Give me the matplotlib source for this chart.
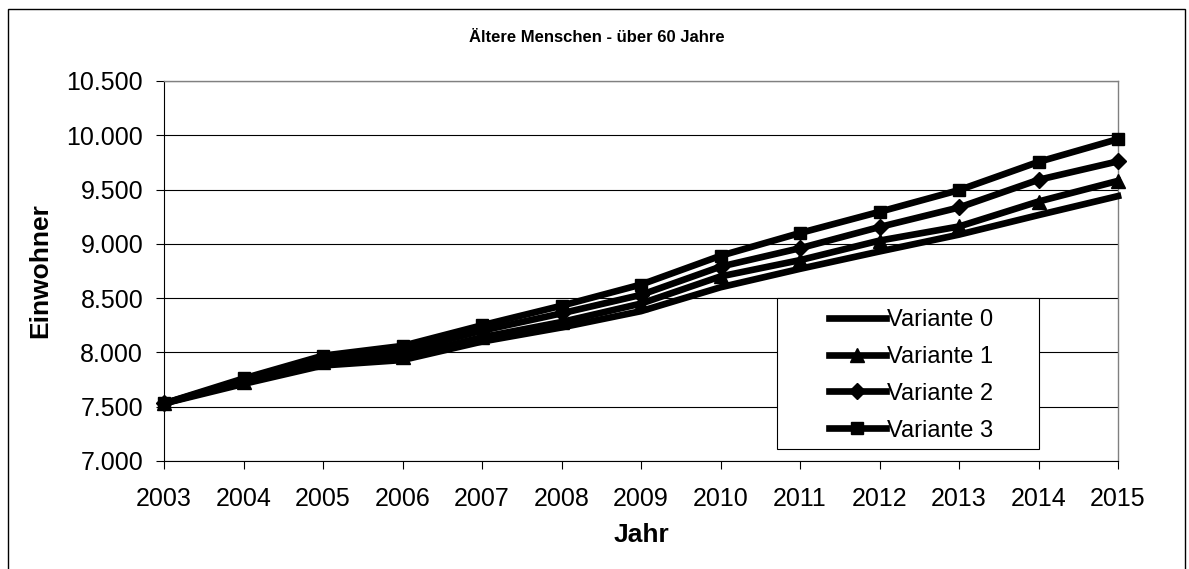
import matplotlib
matplotlib.use("Agg")
import matplotlib.pyplot as plt
from matplotlib.patches import Rectangle
from matplotlib.ticker import FuncFormatter

# Data (Einwohner per Jahr)
jahre = [2003, 2004, 2005, 2006, 2007, 2008, 2009, 2010, 2011, 2012, 2013, 2014, 2015]
variante_0 = [7530, 7710, 7880, 7930, 8100, 8230, 8380, 8600, 8770, 8930, 9085, 9265, 9440]
variante_1 = [7530, 7730, 7910, 7960, 8140, 8280, 8450, 8700, 8850, 9030, 9160, 9390, 9580]
variante_2 = [7530, 7745, 7940, 8010, 8200, 8360, 8530, 8790, 8960, 9155, 9335, 9590, 9760]
variante_3 = [7530, 7760, 7970, 8060, 8250, 8430, 8625, 8890, 9100, 9295, 9495, 9755, 9965]
labels = ["Variante 0", "Variante 1", "Variante 2", "Variante 3"]
y_ticks = [7000, 7500, 8000, 8500, 9000, 9500, 10000, 10500]

plt.rcParams['font.family'] = ['Liberation Sans', 'DejaVu Sans']

W, H = 1189, 569
fig = plt.figure(figsize=(W / 100, H / 100), dpi=100)
ax = fig.add_axes([164 / W, 1 - 461 / H, (1118 - 164) / W, (461 - 81) / H])

series = [variante_0, variante_1, variante_2, variante_3]
markers = [None, '^', 'D', 's']
msizes = [0, 10, 8.5, 9]
for vals, lab, mk, ms in zip(series, labels, markers, msizes):
    ax.plot(jahre, vals, color='black', linewidth=4.8, marker=mk, markersize=ms,
            label=lab, clip_on=False, zorder=3)

ax.set_xlim(2003, 2015)
ax.set_ylim(7000, 10500)
ax.set_xticks(jahre)
ax.set_yticks(y_ticks)
ax.yaxis.set_major_formatter(FuncFormatter(lambda v, p: f"{int(v):,}".replace(",", ".")))
ax.grid(True, axis='y', color='black', linewidth=0.8, zorder=1)
ax.tick_params(axis='both', labelsize=18, direction='out', length=6, width=0.8)
ax.tick_params(axis='x', pad=13)
ax.tick_params(axis='y', pad=9)

for side in ['left', 'bottom']:
    ax.spines[side].set_color('black')
    ax.spines[side].set_linewidth(0.8)
for side in ['right', 'top']:
    ax.spines[side].set_color('#808080')
    ax.spines[side].set_linewidth(1.0)

ax.set_xlabel('Jahr', fontsize=19, fontweight='bold', labelpad=8)
ax.set_ylabel('Einwohner', fontsize=19, fontweight='bold', labelpad=10)

fig.text(597 / W, 1 - 37 / H, 'Ältere Menschen - über 60 Jahre', ha='center', va='center',
         fontsize=12, fontweight='bold')

# legend box (white, covers gridlines)
fig.add_artist(Rectangle((777 / W, 1 - 449 / H), (1039 - 777) / W, (449 - 298) / H,
                         transform=fig.transFigure, facecolor='white', edgecolor='black',
                         linewidth=0.8, zorder=4))
handles, labs = ax.get_legend_handles_labels()
leg = fig.legend(handles, labs, loc='upper left', bbox_to_anchor=(829 / W, 1 - 309 / H),
                 bbox_transform=fig.transFigure, frameon=False, fontsize=17,
                 handlelength=2.4, handletextpad=0.05, labelspacing=0.63,
                 borderpad=0, borderaxespad=0)
leg.set_zorder(5)

# outer chart border
fig.add_artist(Rectangle((8 / W, -0.05), (1185 - 8) / W, 1.05 - 9 / H,
                         transform=fig.transFigure, facecolor='none', edgecolor='black',
                         linewidth=1.0, zorder=0))

fig.savefig('out.png', dpi=100)
